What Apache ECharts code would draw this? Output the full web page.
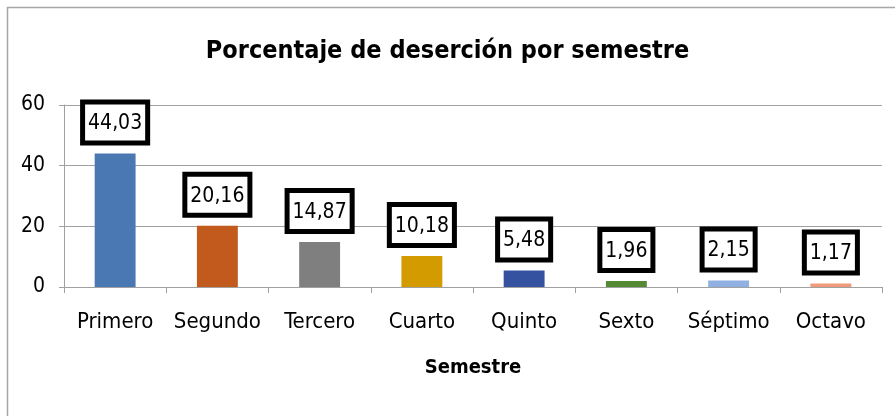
<!DOCTYPE html>
<html>
<head>
<meta charset="utf-8">
<script src="https://cdn.jsdelivr.net/npm/echarts@6/dist/echarts.min.js"></script>
<style>
  html, body { margin: 0; padding: 0; background: #fff; }
  #echarts { width: 895px; height: 416px; }
</style>
</head>
<body>
<div id="echarts"></div>
<script>
// datos del grafico
var semestres = ['Primero', 'Segundo', 'Tercero', 'Cuarto', 'Quinto', 'Sexto', 'Séptimo', 'Octavo'];
var porcentajes = [44.03, 20.16, 14.87, 10.18, 5.48, 1.96, 2.15, 1.17];
var colores = ['#4a78b2', '#c25a1e', '#7f7f7f', '#d39b00', '#3552a1', '#548a34', '#8fb0e0', '#ee9a7c'];
var yTicks = [0, 20, 40, 60];

var fuente = '"Liberation Sans Narrow", "Arial Narrow", "DejaVu Sans Condensed", sans-serif';

var myChart = echarts.init(document.getElementById('echarts'));

var option = {
    backgroundColor: '#fff',
    animation: false,
    title: {
        text: 'Porcentaje de deserción por semestre',
        left: 'center',
        top: 34,
        textStyle: { fontFamily: fuente, fontSize: 25, fontWeight: 'bold', color: '#000' }
    },
    graphic: [{ // borde del grafico (solo arriba e izquierda visibles)
        type: 'rect',
        shape: { x: 7.5, y: 7.5, width: 1000, height: 1000 },
        style: { fill: null, stroke: '#a6a6a6', lineWidth: 1.5 },
        silent: true
    }],
    grid: { left: 64, right: 13, top: 105, bottom: 129 },
    xAxis: {
        type: 'category',
        data: semestres,
        name: 'Semestre',
        nameLocation: 'middle',
        nameGap: 71,
        nameTextStyle: { fontFamily: fuente, fontSize: 20, fontWeight: 'bold', color: '#000' },
        axisLine: { lineStyle: { color: '#a0a0a0', width: 1 } },
        axisTick: { show: true, length: 6, lineStyle: { color: '#a0a0a0' } },
        axisLabel: { fontFamily: fuente, fontSize: 22, color: '#000', margin: 24, interval: 0 }
    },
    yAxis: {
        type: 'value',
        min: yTicks[0],
        max: yTicks[yTicks.length - 1],
        interval: 20,
        axisLine: { show: true, lineStyle: { color: '#a0a0a0', width: 1 } },
        axisTick: { show: true, length: 5, lineStyle: { color: '#a0a0a0' } },
        axisLabel: { fontFamily: fuente, fontSize: 21, color: '#000', margin: 19 },
        splitLine: { lineStyle: { color: '#a0a0a0', width: 1 } }
    },
    series: [{
        type: 'bar',
        barWidth: '40%',
        data: porcentajes.map(function (v, i) {
            return { value: v, itemStyle: { color: colores[i] } };
        }),
        label: {
            show: true,
            position: 'top',
            distance: 13,
            fontFamily: fuente,
            fontSize: 21,
            color: '#000',
            backgroundColor: '#fff',
            borderColor: '#000',
            borderWidth: 5,
            padding: [9, 3, 6, 3],
            formatter: function (p) { return p.value.toFixed(2).replace('.', ','); }
        }
    }]
};

myChart.setOption(option);
</script>
</body>
</html>
